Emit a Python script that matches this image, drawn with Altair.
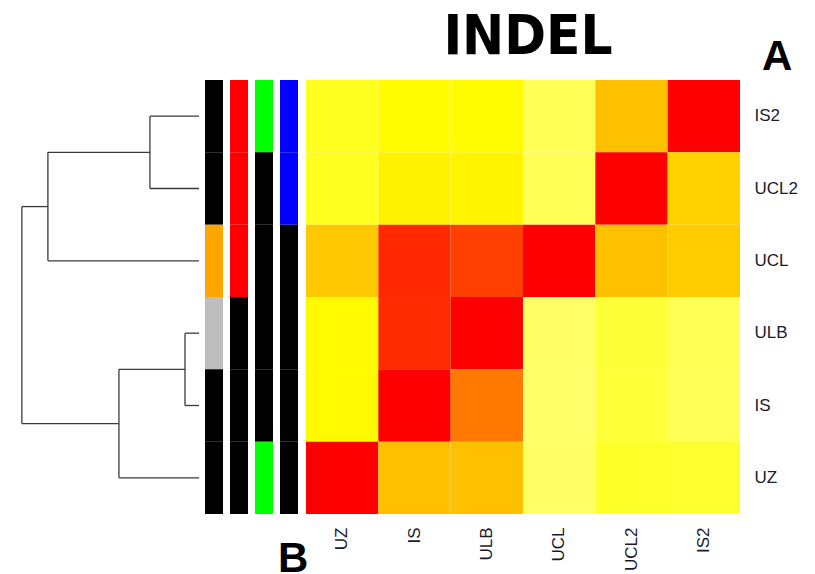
import altair as alt
import pandas as pd

# ---- data ----
rows = ["IS2", "UCL2", "UCL", "ULB", "IS", "UZ"]          # top -> bottom
cols = ["UZ", "IS", "ULB", "UCL", "UCL2", "IS2"]          # left -> right

# position in heat palette (0 = red, 0.75 = yellow, 1 = white)
val_IS2 = [0.781, 0.741, 0.741, 0.833, 0.565, 0.000]
val_UCL2 = [0.781, 0.712, 0.721, 0.833, 0.000, 0.618]
val_UCL = [0.588, 0.118, 0.188, 0.000, 0.565, 0.600]
val_ULB = [0.735, 0.124, 0.000, 0.850, 0.805, 0.833]
val_IS = [0.735, 0.000, 0.353, 0.854, 0.807, 0.836]
val_UZ = [0.000, 0.565, 0.565, 0.850, 0.791, 0.797]
values = [val_IS2, val_UCL2, val_UCL, val_ULB, val_IS, val_UZ]

# side colour bars (per row, top -> bottom)
bar1 = ["#000000", "#000000", "#FFA500", "#BEBEBE", "#000000", "#000000"]
bar2 = ["#FF0000", "#FF0000", "#FF0000", "#000000", "#000000", "#000000"]
bar3 = ["#00FF00", "#000000", "#000000", "#000000", "#000000", "#00FF00"]
bar4 = ["#0000FF", "#0000FF", "#000000", "#000000", "#000000", "#000000"]
bars = [bar1, bar2, bar3, bar4]

# dendrogram merges: (left, right, height, name)
merges = [
    ("ULB", "IS", 0.079, "m1"),
    ("IS2", "UCL2", 0.277, "m2"),
    ("UZ", "m1", 0.452, "m3"),
    ("m2", "UCL", 0.853, "m4"),
    ("m4", "m3", 1.000, "m5"),
]

title_text = "INDEL"
panel_a = "A"
panel_b = "B"

# ---- tables ----
heat_df = pd.DataFrame(
    [{"row": r, "col": c, "v": values[i][j]} for i, r in enumerate(rows) for j, c in enumerate(cols)]
)
bars_df = pd.DataFrame(
    [{"bar": k + 1, "row": r, "color": bars[k][i]} for k in range(4) for i, r in enumerate(rows)]
)
pos = {r: i + 0.5 for i, r in enumerate(rows)}
hgt = {r: 0.0 for r in rows}
segs = []
for a, b, h, name in merges:
    segs.append({"x": hgt[a], "x2": h, "y": pos[a], "y2": pos[a]})
    segs.append({"x": hgt[b], "x2": h, "y": pos[b], "y2": pos[b]})
    segs.append({"x": h, "x2": h, "y": pos[a], "y2": pos[b]})
    pos[name] = (pos[a] + pos[b]) / 2
    hgt[name] = h
seg_df = pd.DataFrame(segs)

H = 434

dendro = alt.Chart(seg_df).mark_rule(color="#3a3a3a", strokeWidth=1.3).encode(
    x=alt.X("x:Q", scale=alt.Scale(domain=[0, 1.05], reverse=True, nice=False, zero=False), axis=None),
    x2="x2:Q",
    y=alt.Y("y:Q", scale=alt.Scale(domain=[0, 6], reverse=True, nice=False, zero=False), axis=None),
    y2="y2:Q",
).properties(width=186, height=H)

sidebars = alt.Chart(bars_df).mark_rect().encode(
    x=alt.X("bar:O", scale=alt.Scale(paddingInner=0.28, paddingOuter=0.04, align=0), axis=None),
    y=alt.Y("row:N", sort=rows, scale=alt.Scale(paddingInner=0, paddingOuter=0), axis=None),
    fill=alt.Fill("color:N", scale=None),
).properties(width=95, height=H)

heat = alt.Chart(heat_df).mark_rect().encode(
    x=alt.X("col:N", sort=cols, title=None,
            axis=alt.Axis(orient="bottom", labelAngle=-90, ticks=False, domain=False,
                          labelPadding=13, labelFontSize=17, labelFont="Liberation Sans",
                          labelColor="#1a1a2e")),
    y=alt.Y("row:N", sort=rows, title=None,
            axis=alt.Axis(orient="right", ticks=False, domain=False, labelPadding=14,
                          labelFontSize=17, labelFont="Liberation Sans", labelColor="#1a1a2e")),
    color=alt.Color("v:Q", legend=None,
                    scale=alt.Scale(domain=[0, 0.75, 1], range=["#FF0000", "#FFFF00", "#FFFFFF"],
                                    interpolate="rgb")),
).properties(width=434, height=H)

lab_title = alt.Chart(pd.DataFrame({"t": [title_text]})).mark_text(
    font="DejaVu Sans Condensed, DejaVu Sans", fontSize=56, fontWeight="bold", align="center",
    baseline="alphabetic", color="black").encode(text="t:N", x=alt.value(222), y=alt.value(-26))
lab_a = alt.Chart(pd.DataFrame({"t": [panel_a]})).mark_text(
    font="Liberation Sans", fontSize=42, fontWeight="bold", align="left", baseline="alphabetic",
    color="black").encode(text="t:N", x=alt.value(456), y=alt.value(-10))
lab_b = alt.Chart(pd.DataFrame({"t": [panel_b]})).mark_text(
    font="Liberation Sans", fontSize=42, fontWeight="bold", align="left", baseline="alphabetic",
    color="black").encode(text="t:N", x=alt.value(-28), y=alt.value(492))

heat_panel = alt.layer(heat, lab_title, lab_a, lab_b)

chart = alt.hconcat(dendro, sidebars, heat_panel, spacing=6, bounds="flush").resolve_scale(
    x="independent", y="independent", color="independent", fill="independent"
).properties(
    padding={"top": 1, "left": 5, "right": 5, "bottom": 5}
).configure_view(stroke=None)

chart.save("out.html", embed_options={"renderer": "svg", "actions": False})
